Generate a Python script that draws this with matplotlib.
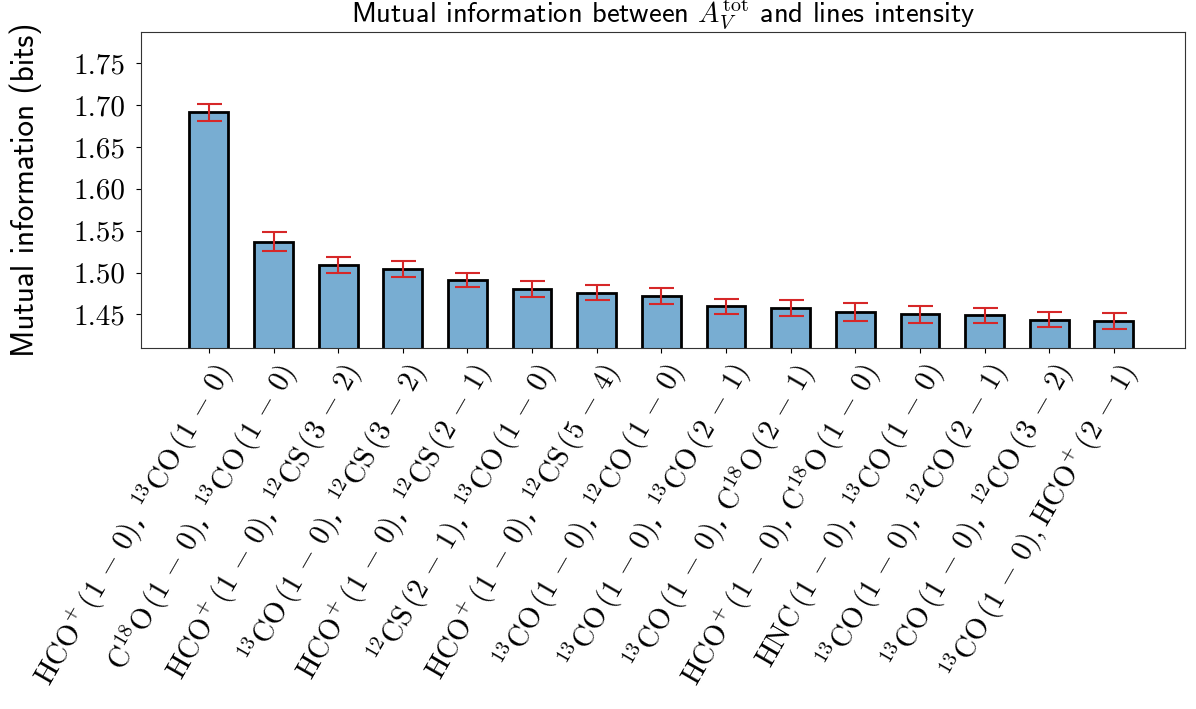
import matplotlib
matplotlib.use("Agg")
import matplotlib.pyplot as plt
import numpy as np

plt.rcParams['mathtext.fontset'] = 'cm'
plt.rcParams['axes.unicode_minus'] = False

labels = [
    r"$\mathrm{HCO^{+}}\,(1\,-\,0)$, $^{13}\mathrm{CO}\,(1\,-\,0)$",
    r"$\mathrm{C^{18}O}\,(1\,-\,0)$, $^{13}\mathrm{CO}\,(1\,-\,0)$",
    r"$\mathrm{HCO^{+}}\,(1\,-\,0)$, $^{12}\mathrm{CS}\,(3\,-\,2)$",
    r"$^{13}\mathrm{CO}\,(1\,-\,0)$, $^{12}\mathrm{CS}\,(3\,-\,2)$",
    r"$\mathrm{HCO^{+}}\,(1\,-\,0)$, $^{12}\mathrm{CS}\,(2\,-\,1)$",
    r"$^{12}\mathrm{CS}\,(2\,-\,1)$, $^{13}\mathrm{CO}\,(1\,-\,0)$",
    r"$\mathrm{HCO^{+}}\,(1\,-\,0)$, $^{12}\mathrm{CS}\,(5\,-\,4)$",
    r"$^{13}\mathrm{CO}\,(1\,-\,0)$, $^{12}\mathrm{CO}\,(1\,-\,0)$",
    r"$^{13}\mathrm{CO}\,(1\,-\,0)$, $^{13}\mathrm{CO}\,(2\,-\,1)$",
    r"$^{13}\mathrm{CO}\,(1\,-\,0)$, $\mathrm{C^{18}O}\,(2\,-\,1)$",
    r"$\mathrm{HCO^{+}}\,(1\,-\,0)$, $\mathrm{C^{18}O}\,(1\,-\,0)$",
    r"$\mathrm{HNC}\,(1\,-\,0)$, $^{13}\mathrm{CO}\,(1\,-\,0)$",
    r"$^{13}\mathrm{CO}\,(1\,-\,0)$, $^{12}\mathrm{CO}\,(2\,-\,1)$",
    r"$^{13}\mathrm{CO}\,(1\,-\,0)$, $^{12}\mathrm{CO}\,(3\,-\,2)$",
    r"$^{13}\mathrm{CO}\,(1\,-\,0),\mathrm{HCO^{+}}\,(2\,-\,1)$",
]
values = [1.691, 1.537, 1.509, 1.504, 1.491, 1.480, 1.476, 1.472,
          1.460, 1.458, 1.453, 1.450, 1.449, 1.444, 1.442]
errors = [0.010, 0.011, 0.009, 0.0096, 0.0088, 0.0096, 0.0086, 0.0092,
          0.009, 0.0096, 0.0106, 0.0098, 0.009, 0.0084, 0.0096]
yticks = [1.45, 1.50, 1.55, 1.60, 1.65, 1.70, 1.75]

fig = plt.figure(figsize=(11.96, 7.09), dpi=100)
ax = fig.add_axes([141/1196, 1-348/709, (1185-141)/1196, (348-32)/709])

x = np.arange(len(values))
ax.bar(x, values, width=0.6, color=(31/255, 119/255, 180/255, 0.6),
       edgecolor='black', linewidth=2)
ax.errorbar(x, values, yerr=errors, fmt='none', ecolor='#d62728',
            capsize=9, elinewidth=1.5, capthick=1.5)

ax.set_xlim(-1.05, 15.1)
ax.set_ylim(1.41, 1.787)
ax.set_yticks(yticks)
ax.set_yticklabels([f"{v:.2f}" for v in yticks], fontfamily='cmr10', fontsize=21)
ax.tick_params(axis='y', pad=8)
ax.set_xticks(x)
ax.set_xticklabels(labels, rotation=60, ha='right', rotation_mode='anchor',
                   fontsize=21)
ax.set_ylabel("Mutual information (bits)", fontfamily='cmss10', fontsize=22.5,
              labelpad=22)
ax.set_title(r"Mutual information between $A_V^{\mathrm{tot}}$ and lines intensity",
             fontfamily='cmss10', fontsize=20.5, pad=4)
for s in ax.spines.values():
    s.set_color('#333333')

fig.savefig("out.png", dpi=100)
